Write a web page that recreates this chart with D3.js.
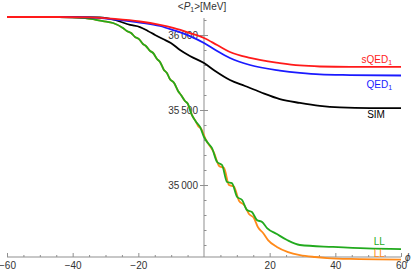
<!DOCTYPE html>
<html lang="en">
<head>
<meta charset="UTF-8">
<title>P1 vs phi</title>
<script src="https://d3js.org/d3.v7.min.js"></script>
<style>
  body { margin: 0; background: #fff; }
  svg text { font-family: "Liberation Sans", Arial, sans-serif; font-size: 10px; }
  .axis path, .axis line { stroke: #8f8f8f; }
  .axis text { fill: #333; }
</style>
</head>
<body>
<svg id="chart" width="415" height="272"></svg>
<script>
// phi values and <P1> [MeV]
const simPhi = [-60, -45, -31.7, -27.1, -22.5, -19.5, -17.1, -14.9, -12.5, -10.1, -7.3, -4.3, 0, 3.4, 7.9, 12.5, 17.1, 23.1, 29.2, 35.3, 41.4, 50.6, 60];
const simVal = [36120, 36120, 36117, 36100, 36067, 36053, 36027, 36000, 35973, 35947, 35900, 35860, 35813, 35760, 35700, 35660, 35620, 35573, 35547, 35527, 35517, 35513, 35513];

const sqedPhi = [-60, -45, -34.7, -27.1, -19.5, -13.4, -9.4, -4.3, 0, 4.0, 7.9, 14.0, 23.1, 29.2, 35.3, 44.5, 60];
const sqedVal = [36120, 36120, 36117, 36107, 36090, 36067, 36047, 36013, 35980, 35933, 35887, 35847, 35813, 35797, 35790, 35787, 35787];

const qedPhi = [-60, -45, -34.7, -27.1, -19.5, -13.4, -9.4, -4.3, 0, 4.0, 7.9, 14.0, 23.1, 29.2, 35.3, 44.5, 60];
const qedVal = [36120, 36120, 36117, 36103, 36083, 36060, 36033, 35993, 35947, 35893, 35847, 35800, 35763, 35747, 35737, 35733, 35730];

const llPhi = [-60, -44, -36.2, -33.2, -30.8, -27.7, -24.7, -23.5, -22.2, -21.0, -19.8, -18.6, -17.7, -16.4, -15.5, -14.3, -13.4, -12.2, -11.3, -10.4, -9.1, -7.9, -7.0, -5.8, -4.9, -3.7, -2.4,
               -1.2, 0, 1.2, 2.4, 4.0, 5.5, 7.0, 8.5, 10.1, 11.6, 13.1, 14.6, 16.1, 17.7, 19.2, 22.2, 25.3, 29.2, 39.3, 49.6, 60];
const llVal = [36120, 36120, 36113, 36103, 36093, 36080, 36047, 36027, 36013, 35987, 35973, 35940, 35927, 35893, 35880, 35840, 35820, 35767, 35747, 35707, 35680, 35627, 35600, 35560, 35540, 35467, 35420,
               35387, 35320, 35280, 35247, 35153, 35133, 35020, 35013, 34920, 34900, 34833, 34820, 34767, 34753, 34713, 34673, 34633, 34600, 34587, 34577, 34573];

const ll2Phi = [-60, -44, -36.2, -33.2, -30.8, -27.7, -24.7, -23.5, -22.2, -21.0, -19.8, -18.6, -17.7, -16.4, -15.5, -14.3, -13.4, -12.2, -11.3, -10.4, -9.1, -7.9, -7.0, -5.8, -4.9, -3.7, -2.4,
                -1.8, -0.9, 0.6, 2.1, 3.0, 4.6, 6.1, 7.6, 9.1, 10.7, 12.2, 13.7, 15.2, 16.4, 18.0, 19.5, 22.2, 25.6, 29.2, 33.8, 37.5, 44.5, 60];
const ll2Val = [36120, 36120, 36113, 36103, 36093, 36080, 36047, 36027, 36013, 35987, 35973, 35940, 35927, 35893, 35880, 35840, 35820, 35767, 35747, 35707, 35680, 35627, 35600, 35560, 35540, 35467, 35420,
                35393, 35377, 35300, 35250, 35217, 35127, 35113, 35000, 34990, 34893, 34867, 34807, 34780, 34720, 34680, 34633, 34587, 34553, 34533, 34520, 34513, 34507, 34503];

const xMajor = [-60, -40, -20, 20, 40, 60];
const xMinor = [-55, -50, -45, -35, -30, -25, -15, -10, -5, 5, 10, 15, 25, 30, 35, 45, 50, 55];
const yMajor = [35000, 35500, 36000];
const yMinor = [34600, 34700, 34800, 34900, 35100, 35200, 35300, 35400, 35600, 35700, 35800, 35900, 36100];

const svg = d3.select("#chart");
const x = d3.scaleLinear().domain([-60, 60]).range([7, 401]);
const y = d3.scaleLinear().domain([35000, 36000]).range([185, 35]);
const yCross = 34520, yTop = 36113;

const fmt = v => d3.format(",")(v).replace(",", "\u2009");

// x axis
const xAxisG = svg.append("g").attr("class", "axis")
    .attr("transform", `translate(0,${y(yCross)})`);
xAxisG.call(d3.axisBottom(x).tickValues(xMajor).tickSize(-4).tickPadding(5)
    .tickFormat(d => String(d).replace("-", "\u2212")));
xAxisG.append("g").call(d3.axisBottom(x).tickValues(xMinor).tickSize(-2).tickFormat(""))
    .select(".domain").remove();
xAxisG.select(".domain").attr("d", `M${x(-60)},0H${x(60)}`);
xAxisG.selectAll("text").attr("font-size", 10);

// y axis
const yAxisG = svg.append("g").attr("class", "axis")
    .attr("transform", `translate(${x(0)},0)`);
yAxisG.call(d3.axisLeft(y).tickValues(yMajor).tickSize(4).tickPadding(2).tickFormat(fmt));
yAxisG.append("g").call(d3.axisRight(y).tickValues(yMinor).tickSize(2.5).tickFormat(""))
    .select(".domain").remove();
yAxisG.append("g").call(d3.axisRight(y).tickValues(yMajor).tickSize(4).tickFormat(""))
    .select(".domain").remove();
yAxisG.select(".domain").attr("d", `M0,${y(yCross)}V${y(yTop)}`);
yAxisG.selectAll("text").attr("font-size", 10);

// axis labels
const yl = svg.append("text").attr("x", x(0) - 2).attr("y", 10).attr("fill", "#333").attr("text-anchor", "middle");
yl.append("tspan").text("<");
yl.append("tspan").attr("font-style", "italic").text("P");
yl.append("tspan").attr("font-size", 7).attr("dy", 2).text("1");
yl.append("tspan").attr("dy", -2).text(">[MeV]");

svg.append("text").attr("x", 405).attr("y", y(yCross) + 3.5)
    .attr("font-style", "italic").attr("font-size", 11).attr("fill", "#333").text("\u03d5");

// curves
const series = [
  { phi: ll2Phi, val: ll2Val, color: "#ff8a1a" },
  { phi: llPhi, val: llVal, color: "#22aa1e" },
  { phi: simPhi, val: simVal, color: "#000000" },
  { phi: qedPhi, val: qedVal, color: "#1a1aff" },
  { phi: sqedPhi, val: sqedVal, color: "#ff1a1a" }
];
const line = d3.line().x(d => x(d[0])).y(d => y(d[1])).curve(d3.curveMonotoneX);
series.forEach(s => {
  svg.append("path")
    .datum(s.phi.map((p, i) => [p, s.val[i]]))
    .attr("fill", "none").attr("stroke", s.color).attr("stroke-width", 1.8)
    .attr("d", line);
});

// curve labels
function label(xv, yv, main, sub, color) {
  const t = svg.append("text").attr("x", x(xv)).attr("y", y(yv)).attr("fill", color).attr("text-anchor", "end");
  t.append("tspan").text(main);
  if (sub) t.append("tspan").attr("font-size", 7).attr("dy", 2).text(sub);
}
label(57.3, 35812, "sQED", "1", "#ff1a1a");
label(57.3, 35650, "QED", "1", "#1a1aff");
label(55.1, 35447, "SIM", null, "#000");
label(55.1, 34600, "LL", null, "#22aa1e");
label(55.1, 34522, "LL", null, "#ff8a1a");
</script>
</body>
</html>
